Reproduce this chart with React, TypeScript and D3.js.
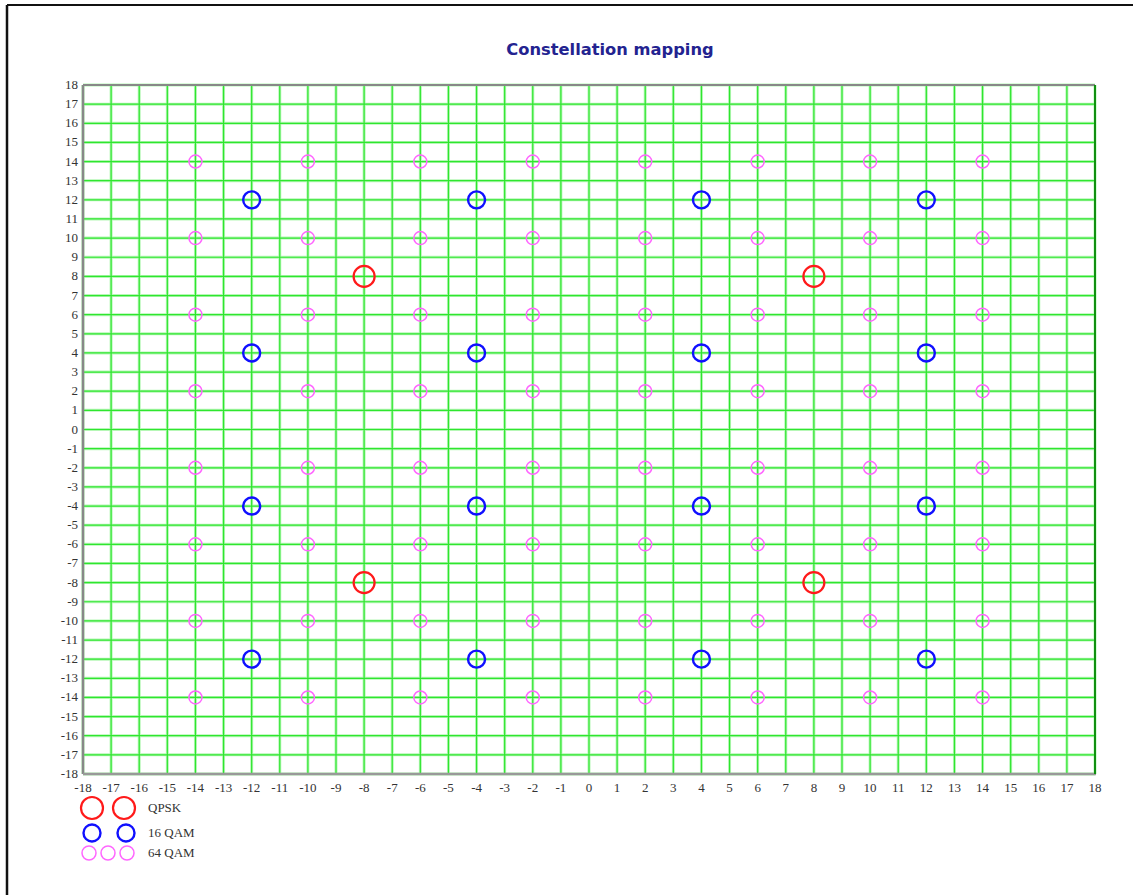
import React from "react";
import * as d3 from "d3";

const title = "Constellation mapping";
const ticks = [-18,-17,-16,-15,-14,-13,-12,-11,-10,-9,-8,-7,-6,-5,-4,-3,-2,-1,0,1,2,3,4,5,6,7,8,9,10,11,12,13,14,15,16,17,18];

const qpsk: [number, number][] = [[-8, 8], [8, 8], [-8, -8], [8, -8]];

const qam16: [number, number][] = [
  [-12, 12], [-4, 12], [4, 12], [12, 12],
  [-12, 4], [-4, 4], [4, 4], [12, 4],
  [-12, -4], [-4, -4], [4, -4], [12, -4],
  [-12, -12], [-4, -12], [4, -12], [12, -12],
];

const qam64: [number, number][] = [
  [-14, 14], [-10, 14], [-6, 14], [-2, 14], [2, 14], [6, 14], [10, 14], [14, 14],
  [-14, 10], [-10, 10], [-6, 10], [-2, 10], [2, 10], [6, 10], [10, 10], [14, 10],
  [-14, 6], [-10, 6], [-6, 6], [-2, 6], [2, 6], [6, 6], [10, 6], [14, 6],
  [-14, 2], [-10, 2], [-6, 2], [-2, 2], [2, 2], [6, 2], [10, 2], [14, 2],
  [-14, -2], [-10, -2], [-6, -2], [-2, -2], [2, -2], [6, -2], [10, -2], [14, -2],
  [-14, -6], [-10, -6], [-6, -6], [-2, -6], [2, -6], [6, -6], [10, -6], [14, -6],
  [-14, -10], [-10, -10], [-6, -10], [-2, -10], [2, -10], [6, -10], [10, -10], [14, -10],
  [-14, -14], [-10, -14], [-6, -14], [-2, -14], [2, -14], [6, -14], [10, -14], [14, -14],
];

const legendItems = [
  { label: "QPSK", color: "#ff1a1a", r: 11, w: 2.2, xs: [92, 124], y: 808 },
  { label: "16 QAM", color: "#1010ff", r: 8.5, w: 2.4, xs: [92, 126], y: 833 },
  { label: "64 QAM", color: "#ff66ff", r: 7, w: 1.5, xs: [89, 108, 127], y: 853 },
];

const W = 1133, H = 895;
const L = 83, R = 1095, T = 85, B = 774;

export default function App() {
  const x = d3.scaleLinear().domain([-18, 18]).range([L, R]);
  const y = d3.scaleLinear().domain([-18, 18]).range([B, T]);
  const serif = "'Liberation Serif', 'DejaVu Serif', serif";
  return (
    <svg width={W} height={H} style={{ position: "absolute", left: 0, top: 0, background: "#fff" }}>
      <rect x={0} y={0} width={W} height={H} fill="#fff" />
      {/* outer frame */}
      <line x1={7} y1={5} x2={W} y2={5} stroke="#111" strokeWidth={2} />
      <line x1={7} y1={5} x2={7} y2={H} stroke="#111" strokeWidth={2.5} />
      <text x={610} y={55} textAnchor="middle" fontFamily="'DejaVu Sans', Verdana, sans-serif" fontWeight="bold" fontSize={16.3} fill="#232390">{title}</text>
      {/* grid */}
      <g>
        {ticks.map((t) => (
          <g key={"g" + t}>
            <line x1={x(t)} x2={x(t)} y1={T} y2={B} stroke="#b6f7b6" strokeWidth={3} />
            <line x1={L} x2={R} y1={y(t)} y2={y(t)} stroke="#b6f7b6" strokeWidth={3} />
          </g>
        ))}
        {ticks.map((t) => (
          <g key={"c" + t}>
            <line x1={x(t)} x2={x(t)} y1={T} y2={B} stroke="#2ee62e" strokeWidth={1.2} />
            <line x1={L} x2={R} y1={y(t)} y2={y(t)} stroke="#2ee62e" strokeWidth={1.2} />
          </g>
        ))}
      </g>
      {/* frame */}
      <line x1={L} x2={R} y1={T} y2={T} stroke="#888" strokeWidth={2} />
      <line x1={L} x2={L} y1={T} y2={B} stroke="#888" strokeWidth={2.5} />
      <line x1={L} x2={R + 1} y1={B} y2={B} stroke="#999" strokeWidth={2.5} />
      <line x1={R} x2={R} y1={T} y2={B} stroke="#109010" strokeWidth={2} />
      {/* tick labels */}
      {ticks.map((t) => (
        <text key={"yl" + t} x={L - 5} y={y(t) + 4} textAnchor="end" fontFamily={serif} fontSize={13} fill="#333">{String(t)}</text>
      ))}
      {ticks.map((t) => (
        <text key={"xl" + t} x={x(t)} y={B + 18} textAnchor="middle" fontFamily={serif} fontSize={13} fill="#333">{String(t)}</text>
      ))}
      {/* points */}
      {qam64.map(([a, b], i) => (
        <circle key={"m" + i} cx={x(a)} cy={y(b)} r={6.5} fill="none" stroke="#ff66ff" strokeWidth={1.5} />
      ))}
      {qam16.map(([a, b], i) => (
        <circle key={"b" + i} cx={x(a)} cy={y(b)} r={8.5} fill="none" stroke="#1010ff" strokeWidth={2.4} />
      ))}
      {qpsk.map(([a, b], i) => (
        <circle key={"r" + i} cx={x(a)} cy={y(b)} r={10.5} fill="none" stroke="#ff1a1a" strokeWidth={2.2} />
      ))}
      {/* legend */}
      {legendItems.map((it) => (
        <g key={it.label}>
          {it.xs.map((cx, j) => (
            <circle key={j} cx={cx} cy={it.y} r={it.r} fill="none" stroke={it.color} strokeWidth={it.w} />
          ))}
          <text x={148} y={it.y + 4} fontFamily={serif} fontSize={13} fill="#333">{it.label}</text>
        </g>
      ))}
    </svg>
  );
}
